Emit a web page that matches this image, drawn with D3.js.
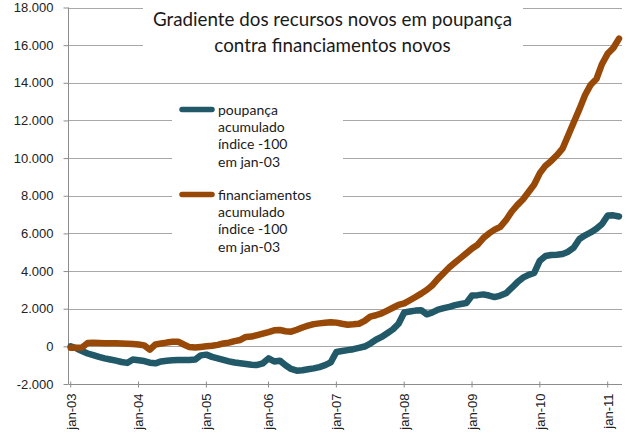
<!DOCTYPE html>
<html>
<head>
<meta charset="utf-8">
<script src="https://cdn.jsdelivr.net/npm/d3@7"></script>
<style>
  html, body { margin: 0; padding: 0; background: #fff; }
  svg { display: block; }
</style>
</head>
<body>
<svg id="chart" width="640" height="440"></svg>
<script>
// ---------- DATA ----------
const categories = [
  "jan-03","fev-03","mar-03","abr-03","mai-03","jun-03","jul-03","ago-03","set-03","out-03","nov-03","dez-03",
  "jan-04","fev-04","mar-04","abr-04","mai-04","jun-04","jul-04","ago-04","set-04","out-04","nov-04","dez-04",
  "jan-05","fev-05","mar-05","abr-05","mai-05","jul-05","ago-05","set-05","out-05","nov-05","dez-05",
  "jan-06","fev-06","mar-06","abr-06","mai-06","jun-06","jul-06","ago-06","set-06","out-06","nov-06","dez-06",
  "jan-07","fev-07","mar-07","abr-07","mai-07","jun-07","jul-07","ago-07","set-07","out-07","nov-07","dez-07",
  "jan-08","fev-08","mar-08","abr-08","mai-08","jun-08","jul-08","ago-08","set-08","out-08","nov-08","dez-08",
  "jan-09","fev-09","mar-09","abr-09","mai-09","jun-09","jul-09","ago-09","set-09","out-09","nov-09","dez-09",
  "jan-10","fev-10","mar-10","abr-10","mai-10","jun-10","jul-10","ago-10","set-10","out-10","nov-10","dez-10",
  "jan-11","fev-11","mar-11"
];

const poupanca = [
  0, -100, -250, -380, -470, -560, -640, -700, -760, -830, -880, -700,
  -740, -780, -870, -900, -800, -760, -740, -720, -720, -720, -700, -480,
  -440, -560, -640, -720, -800, -860, -900, -940, -980, -990, -900,
  -640, -800, -760, -1000, -1200, -1290, -1270, -1220, -1170, -1100, -1000, -850,
  -300, -250, -200, -150, -80, -10, 150, 350, 500, 700, 900, 1200,
  1800, 1850, 1900, 1920, 1700, 1800, 1950, 2030, 2100, 2190, 2250, 2300,
  2700, 2720, 2760, 2700, 2620, 2700, 2820, 3100, 3400, 3650, 3800, 3900,
  4550, 4800, 4850, 4870, 4900, 5030, 5250, 5700, 5900, 6050, 6250, 6500,
  6950, 6960, 6900
];

const financiamentos = [
  -70, -70, -60, 180, 190, 180, 170, 160, 160, 150, 140, 120,
  100, 50, -180, 100, 150, 200, 240, 250, 100, -40, -60, -30,
  0, 30, 80, 150, 200, 280, 340, 500, 520, 600, 680,
  760, 850, 870, 800, 780, 880, 1000, 1100, 1180, 1220, 1250, 1280,
  1260, 1200, 1150, 1170, 1200, 1350, 1580, 1650, 1750, 1900, 2050, 2200,
  2280, 2450, 2620, 2800, 3000, 3250, 3600, 3900, 4200, 4450, 4700, 4950,
  5200, 5400, 5750, 6000, 6200, 6350, 6700, 7150, 7500, 7800, 8200, 8600,
  9200, 9600, 9850, 10150, 10500, 11200, 11900, 12600, 13350, 13900, 14200, 15000,
  15550, 15850, 16350
];

const xTickLabels = ["jan-03","jan-04","jan-05","jan-06","jan-07","jan-08","jan-09","jan-10","jan-11"];
const yTickValues = [-2000, 0, 2000, 4000, 6000, 8000, 10000, 12000, 14000, 16000, 18000];

const titleLines = ["Gradiente dos recursos novos em poupança", "contra financiamentos novos"];
const legendPoupanca = ["poupança", "acumulado", "índice -100", "em jan-03"];
const legendFinanciamentos = ["financiamentos", "acumulado", "índice -100", "em jan-03"];

// ---------- STYLE ----------
const colBlue = "#215968";
const colOrange = "#984807";
const axisColor = "#8c8c8c";
const gridColor = "#a8a8a8";

const svg = d3.select("#chart");

const x = d3.scalePoint(categories, [70.7, 619]).padding(0);
const y = d3.scaleLinear([-2000, 18000], [384, 7.5]);
const axisX = 68.5;
const plotRight = 622;

const locale = d3.formatLocale({decimal: ",", thousands: ".", grouping: [3], currency: ["", ""], minus: "-"});
const fmt = locale.format(",");

// gridlines
svg.append("g").selectAll("line")
  .data(yTickValues.filter(v => v !== -2000))
  .join("line")
  .attr("x1", axisX).attr("x2", plotRight)
  .attr("y1", d => Math.round(y(d)) + 0.5).attr("y2", d => Math.round(y(d)) + 0.5)
  .attr("stroke", gridColor).attr("stroke-width", 1);

// y axis
const yAxis = d3.axisLeft(y).tickValues(yTickValues).tickFormat(fmt).tickSize(5).tickPadding(10);
const gy = svg.append("g").attr("transform", `translate(${axisX},0)`).call(yAxis);
gy.select(".domain").attr("stroke", axisColor).attr("d", `M-0,${y(18000)}V${y(-2000)}`);
gy.selectAll(".tick line").attr("stroke", axisColor);
gy.selectAll(".tick text")
  .attr("fill", "#222")
  .style("font-family", "'Liberation Sans', Arial, sans-serif")
  .style("font-size", "13px");

// x axis
const gx = svg.append("g").attr("transform", `translate(0,${Math.round(y(-2000)) + 0.5})`);
gx.append("line").attr("x1", axisX).attr("x2", plotRight).attr("stroke", axisColor);
const xt = gx.selectAll("g.xt").data(xTickLabels).join("g").attr("class", "xt")
  .attr("transform", d => `translate(${x(d)},0)`);
xt.append("line").attr("y1", -3).attr("y2", 3).attr("stroke", axisColor);
xt.append("text")
  .attr("transform", "rotate(-90)")
  .attr("x", -9).attr("dy", "0.38em")
  .attr("text-anchor", "end")
  .attr("fill", "#222")
  .style("font-family", "'Liberation Sans', Arial, sans-serif")
  .style("font-size", "13px")
  .text(d => d);

// title box & legend box (cover gridlines)
svg.append("rect").attr("x", 143).attr("y", 0).attr("width", 380).attr("height", 57).attr("fill", "#fff");
svg.append("rect").attr("x", 172).attr("y", 95).attr("width", 171).attr("height", 163).attr("fill", "#fff");

// title
const title = svg.append("text")
  .attr("text-anchor", "middle")
  .attr("fill", "#1a1a1a")
  .style("font-family", "Lato, 'Open Sans', sans-serif")
  .style("font-size", "18.8px");
title.selectAll("tspan").data(titleLines).join("tspan")
  .attr("x", 332.5).attr("y", (d, i) => 26 + i * 26).text(d => d);

// lines
const line = d3.line().x((d, i) => x(categories[i])).y(d => y(d));
[[poupanca, colBlue], [financiamentos, colOrange]].forEach(([vals, col]) => {
  svg.append("path")
    .datum(vals)
    .attr("d", line)
    .attr("fill", "none")
    .attr("stroke", col)
    .attr("stroke-width", 6.5)
    .attr("stroke-linejoin", "round")
    .attr("stroke-linecap", "round");
});

// legend
const legendData = [
  {lines: legendPoupanca, color: colBlue, y0: 109.5},
  {lines: legendFinanciamentos, color: colOrange, y0: 194.5}
];
legendData.forEach(ent => {
  svg.append("line")
    .attr("x1", 182).attr("x2", 212).attr("y1", ent.y0).attr("y2", ent.y0)
    .attr("stroke", ent.color).attr("stroke-width", 5.5).attr("stroke-linecap", "round");
  const t = svg.append("text")
    .attr("fill", "#1a1a1a")
    .style("font-family", "Lato, 'Open Sans', sans-serif")
    .style("font-size", "14px");
  t.selectAll("tspan").data(ent.lines).join("tspan")
    .attr("x", 218).attr("y", (d, i) => ent.y0 + 5 + i * 17.4).text(d => d);
});
</script>
</body>
</html>
